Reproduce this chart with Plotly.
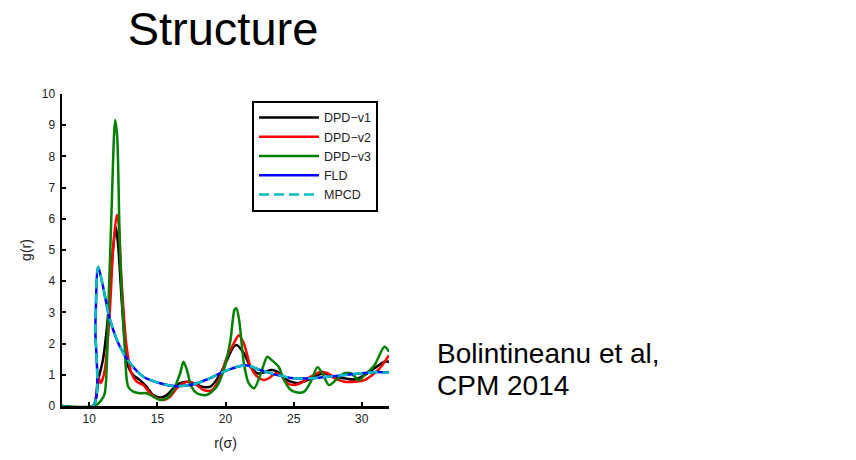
import plotly.graph_objects as go

# ---- data ----
r_fld = [8, 10.28, 10.45, 10.65, 11.0, 11.5, 12.25, 13.0, 13.97, 15.2, 16.2, 17.4, 18.64, 19.87,
         21.1, 21.6, 22.57, 23.8, 25.03, 26.26, 27.49, 28.72, 29.95, 31.18, 32.0]
g_fld = [0, 0, 2.6, 4.46, 3.85, 2.8, 1.9, 1.37, 0.94, 0.73, 0.64, 0.67, 0.85, 1.10,
         1.28, 1.30, 1.15, 0.99, 0.89, 0.89, 0.94, 0.99, 1.05, 1.09, 1.07]
g_mpcd = list(g_fld)
r_mpcd = list(r_fld)

r_v1 = [8, 10.28, 10.65, 11.0, 11.4, 11.76, 11.96, 12.13, 12.45, 12.86, 13.23, 13.72, 14.2, 14.7,
        15.2, 15.69, 16.18, 16.67, 17.17, 17.66, 18.27, 18.89, 19.5, 20.11, 20.6, 20.85, 21.35,
        21.84, 22.33, 22.82, 23.3, 23.8, 24.3, 24.8, 25.28, 26.0, 26.75, 27.25, 28.0, 28.72,
        29.46, 30.2, 30.93, 31.67, 32.0]
g_v1 = [0, 0, 0.83, 1.47, 2.97, 5.1, 5.72, 5.1, 2.97, 1.26, 0.99, 0.83, 0.62, 0.35,
        0.27, 0.35, 0.57, 0.73, 0.78, 0.73, 0.62, 0.62, 0.94, 1.47, 1.9, 1.95, 1.69,
        1.26, 1.05, 1.07, 1.15, 1.1, 0.89, 0.78, 0.73, 0.83, 0.99, 1.05, 0.94, 0.89,
        0.85, 0.99, 1.21, 1.42, 1.42]

r_v2 = [8, 10.28, 10.65, 10.85, 11.14, 11.5, 11.76, 12.02, 12.13, 12.37, 12.74, 13.1, 13.48, 13.97,
        14.46, 14.95, 15.32, 15.94, 16.43, 16.92, 17.41, 17.9, 18.4, 19.0, 19.62, 20.11, 20.6,
        20.98, 21.35, 21.84, 22.33, 22.82, 23.19, 23.68, 24.05, 24.54, 25.03, 25.52, 26.26, 27.0,
        27.5, 28.0, 28.72, 29.46, 30.2, 30.93, 31.42, 32.0]
g_v2 = [0, 0, 0.94, 0.73, 1.15, 2.97, 5.1, 6.12, 5.96, 4.04, 1.9, 1.05, 0.78, 0.67,
        0.41, 0.25, 0.19, 0.3, 0.57, 0.73, 0.78, 0.67, 0.51, 0.51, 0.94, 1.58, 2.0,
        2.27, 2.0, 1.26, 0.94, 0.83, 0.89, 1.05, 0.99, 0.73, 0.67, 0.73, 0.94, 1.1,
        1.05, 0.89, 0.78, 0.78, 0.83, 1.05, 1.26, 1.63]

r_v3 = [8, 10.4, 10.9, 11.14, 11.39, 11.63, 11.9, 12.05, 12.25, 12.6, 12.86, 13.23, 13.72, 14.2,
        14.7, 15.2, 15.69, 16.18, 16.67, 16.92, 17.17, 17.5, 17.9, 18.6, 19.35, 19.87, 20.36,
        20.66, 20.8, 21.0, 21.35, 21.7, 22.1, 22.6, 23.07, 23.4, 23.9, 24.3, 24.8, 25.28, 25.77,
        26.26, 26.75, 27.1, 27.6, 28.1, 28.72, 29.2, 29.82, 30.2, 30.93, 31.67, 32.0]
g_v3 = [0, 0, 0.19, 0.41, 2.97, 6.18, 9.17, 8.63, 5.1, 1.9, 0.62, 0.46, 0.41, 0.41,
        0.3, 0.19, 0.25, 0.51, 1.05, 1.42, 1.15, 0.62, 0.41, 0.35, 0.62, 1.15, 2.1,
        3.08, 3.13, 2.76, 1.37, 0.73, 0.57, 1.05, 1.58, 1.47, 1.26, 0.83, 0.51, 0.43, 0.46,
        0.78, 1.24, 1.05, 0.67, 0.83, 1.05, 1.05, 0.83, 0.99, 1.31, 1.9, 1.74]

series = [
    ("DPD\u2212v1", r_v1, g_v1, "#000000", "solid"),
    ("DPD\u2212v2", r_v2, g_v2, "#FF0000", "solid"),
    ("DPD\u2212v3", r_v3, g_v3, "#008000", "solid"),
    ("FLD", r_fld, g_fld, "#0000FF", "solid"),
    ("MPCD", r_mpcd, g_mpcd, "#00BFBF", "10px,5px"),
]

x_ticks = [10, 15, 20, 25, 30]
y_ticks = [0, 1, 2, 3, 4, 5, 6, 7, 8, 9, 10]

FONT = "Liberation Sans, Arial, sans-serif"

fig = go.Figure()
for name, xs, ys, col, dash in series:
    fig.add_trace(go.Scatter(
        x=xs, y=ys, name=name, mode="lines", hoverinfo="skip",
        line=dict(color=col, width=2.5, dash=dash, shape="spline", smoothing=0.8),
    ))

fig.update_layout(
    width=856, height=460,
    margin=dict(l=62, r=467, t=94, b=54),
    paper_bgcolor="white", plot_bgcolor="white",
    font=dict(family=FONT, size=12, color="#222"),
    hovermode=False,
    showlegend=True,
    legend=dict(
        x=0.581, y=0.978, xanchor="left", yanchor="top",
        bordercolor="black", borderwidth=2, bgcolor="white",
        font=dict(family=FONT, size=12.5, color="#222"),
        tracegroupgap=0, itemwidth=60,
    ),
    xaxis=dict(
        range=[8, 32], tickvals=x_ticks, ticks="inside", ticklen=4, tickwidth=2,
        tickcolor="black", showline=True, linecolor="black", linewidth=2.5,
        showgrid=False, zeroline=False, mirror=False, automargin=False,
        title=dict(text="r(\u03c3)", font=dict(family=FONT, size=14, color="#222"), standoff=14),
        tickfont=dict(family=FONT, size=12, color="#222"),
    ),
    yaxis=dict(
        range=[0, 10], tickvals=y_ticks, ticks="inside", ticklen=4, tickwidth=2,
        tickcolor="black", showline=True, linecolor="black", linewidth=2.5,
        showgrid=False, zeroline=False, mirror=False, automargin=False,
        ticklabelstandoff=2,
        title=dict(text="g(r)", font=dict(family=FONT, size=14, color="#222"), standoff=7),
        tickfont=dict(family=FONT, size=12, color="#222"),
    ),
    title=dict(
        text="Structure", x=223 / 856, xref="container", xanchor="center",
        y=1 - 29 / 460, yref="container", yanchor="middle",
        font=dict(family=FONT, size=47, color="black"),
    ),
    annotations=[
        dict(text="Bolintineanu et al,", xref="paper", yref="paper",
             x=(435 - 62) / 327, y=(406 - 353) / 312, xanchor="left", yanchor="middle",
             showarrow=False, font=dict(family=FONT, size=28, color="black")),
        dict(text="CPM 2014", xref="paper", yref="paper",
             x=(435 - 62) / 327, y=(406 - 385) / 312, xanchor="left", yanchor="middle",
             showarrow=False, font=dict(family=FONT, size=28, color="black")),
    ],
)

fig.write_html("out.html", config={"displayModeBar": False, "staticPlot": True},
               post_script="document.body.style.margin='0px';")
